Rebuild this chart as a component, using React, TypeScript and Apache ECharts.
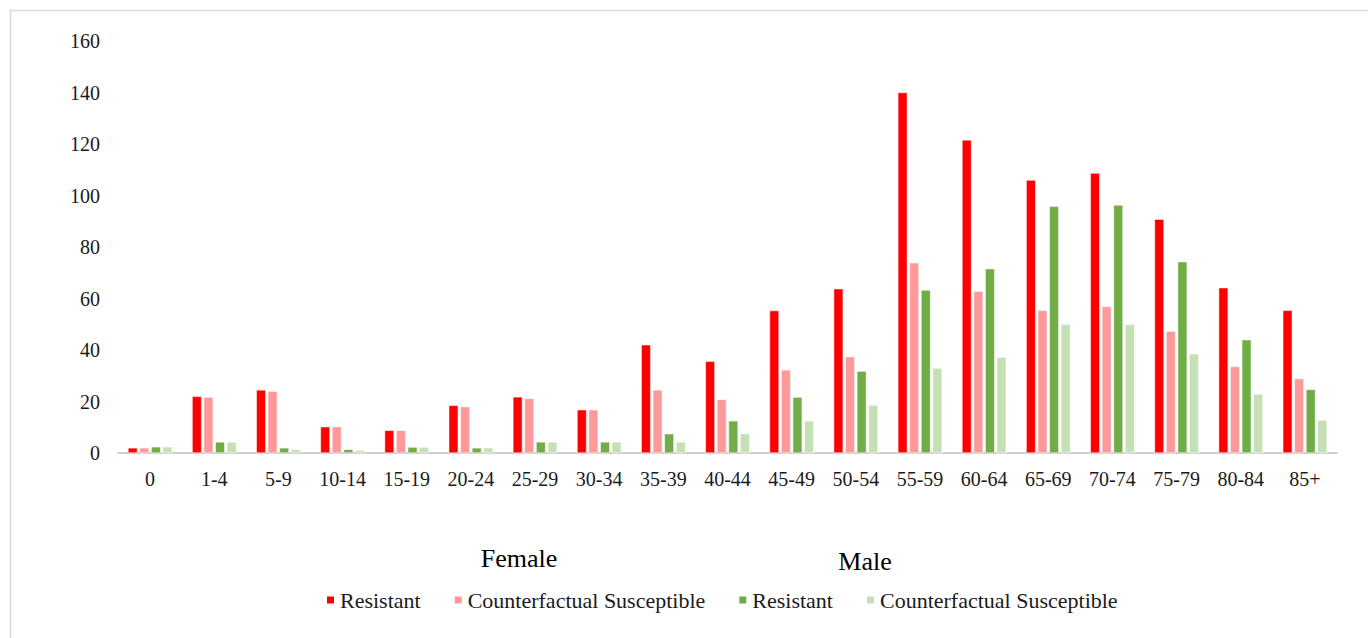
import React, { useEffect, useRef } from "react";
import * as echarts from "echarts";

const categories = ["0", "1-4", "5-9", "10-14", "15-19", "20-24", "25-29", "30-34", "35-39", "40-44", "45-49", "50-54", "55-59", "60-64", "65-69", "70-74", "75-79", "80-84", "85+"];
const femaleResistant = [2, 22, 24.5, 10.2, 8.8, 18.5, 21.8, 16.8, 42, 35.6, 55.3, 63.8, 140, 121.6, 106, 108.7, 90.8, 64.2, 55.4];
const femaleSusceptible = [2, 21.7, 24, 10.2, 8.8, 18, 21.2, 16.8, 24.5, 20.8, 32.3, 37.4, 73.9, 62.8, 55.4, 56.9, 47.3, 33.6, 28.9];
const maleResistant = [2.4, 4.3, 2, 1.4, 2.3, 2, 4.3, 4.3, 7.5, 12.5, 21.7, 31.8, 63.3, 71.6, 95.8, 96.3, 74.3, 44, 24.7];
const maleSusceptible = [2.4, 4.3, 1.4, 1, 2.3, 2, 4.3, 4.3, 4.3, 7.5, 12.5, 18.6, 33, 37.2, 50, 50, 38.5, 22.9, 12.8];

const seriesNames = ["Female Resistant", "Female Counterfactual Susceptible", "Male Resistant", "Male Counterfactual Susceptible"];
const seriesColors = ["#FF0000", "#FF9999", "#70AD47", "#C5E0B4"];
const seriesValues = [femaleResistant, femaleSusceptible, maleResistant, maleSusceptible];

const FONT = "'Liberation Serif', 'Times New Roman', serif";

export default function App() {
  const ref = useRef<HTMLDivElement>(null);
  useEffect(() => {
    if (!ref.current) return;
    const chart = echarts.init(ref.current, null, { renderer: "svg" });
    chart.setOption({
      animation: false,
      backgroundColor: "#ffffff",
      textStyle: { fontFamily: FONT },
      grid: { left: 118, right: 31, top: 41, bottom: 185, containLabel: false },
      xAxis: {
        type: "category",
        data: categories,
        axisLine: { show: true, lineStyle: { color: "#d0d0d0", width: 2 } },
        axisTick: { show: false },
        axisLabel: { color: "#1a1a1a", fontSize: 20, fontFamily: FONT, margin: 16, interval: 0 },
        splitLine: { show: false },
      },
      yAxis: {
        type: "value",
        min: 0,
        max: 160,
        interval: 20,
        axisLine: { show: false },
        axisTick: { show: false },
        splitLine: { show: false },
        axisLabel: { color: "#1a1a1a", fontSize: 20, fontFamily: FONT, margin: 18 },
      },
      legend: {
        left: 325,
        top: 589,
        padding: 0,
        itemWidth: 9,
        itemHeight: 9,
        itemGap: 32,
        icon: "rect",
        data: seriesNames,
        formatter: (name: string) => name.replace(/^(Female|Male) /, ""),
        textStyle: { fontSize: 22, fontFamily: FONT, color: "#1a1a1a" },
      },
      graphic: [
        {
          type: "rect",
          shape: { x: 10.5, y: 10.5, width: 1400, height: 700 },
          style: { fill: "none", stroke: "#d9d9d9", lineWidth: 1.5 },
          silent: true,
        },
        {
          type: "text",
          x: 519,
          y: 558,
          style: { text: "Female", fontSize: 26, fontFamily: FONT, fill: "#000", align: "center", verticalAlign: "middle" },
        },
        {
          type: "text",
          x: 865,
          y: 561,
          style: { text: "Male", fontSize: 26, fontFamily: FONT, fill: "#000", align: "center", verticalAlign: "middle" },
        },
      ],
      series: seriesNames.map((name, i) => ({
        name,
        type: "bar",
        data: seriesValues[i],
        barWidth: 9.5,
        barGap: "22%",
        itemStyle: { color: seriesColors[i], borderColor: "#ffffff", borderWidth: 0.5 },
      })),
    });
    return () => chart.dispose();
  }, []);
  return <div ref={ref} style={{ position: "fixed", left: 0, top: 0, width: 1368, height: 638 }} />;
}
